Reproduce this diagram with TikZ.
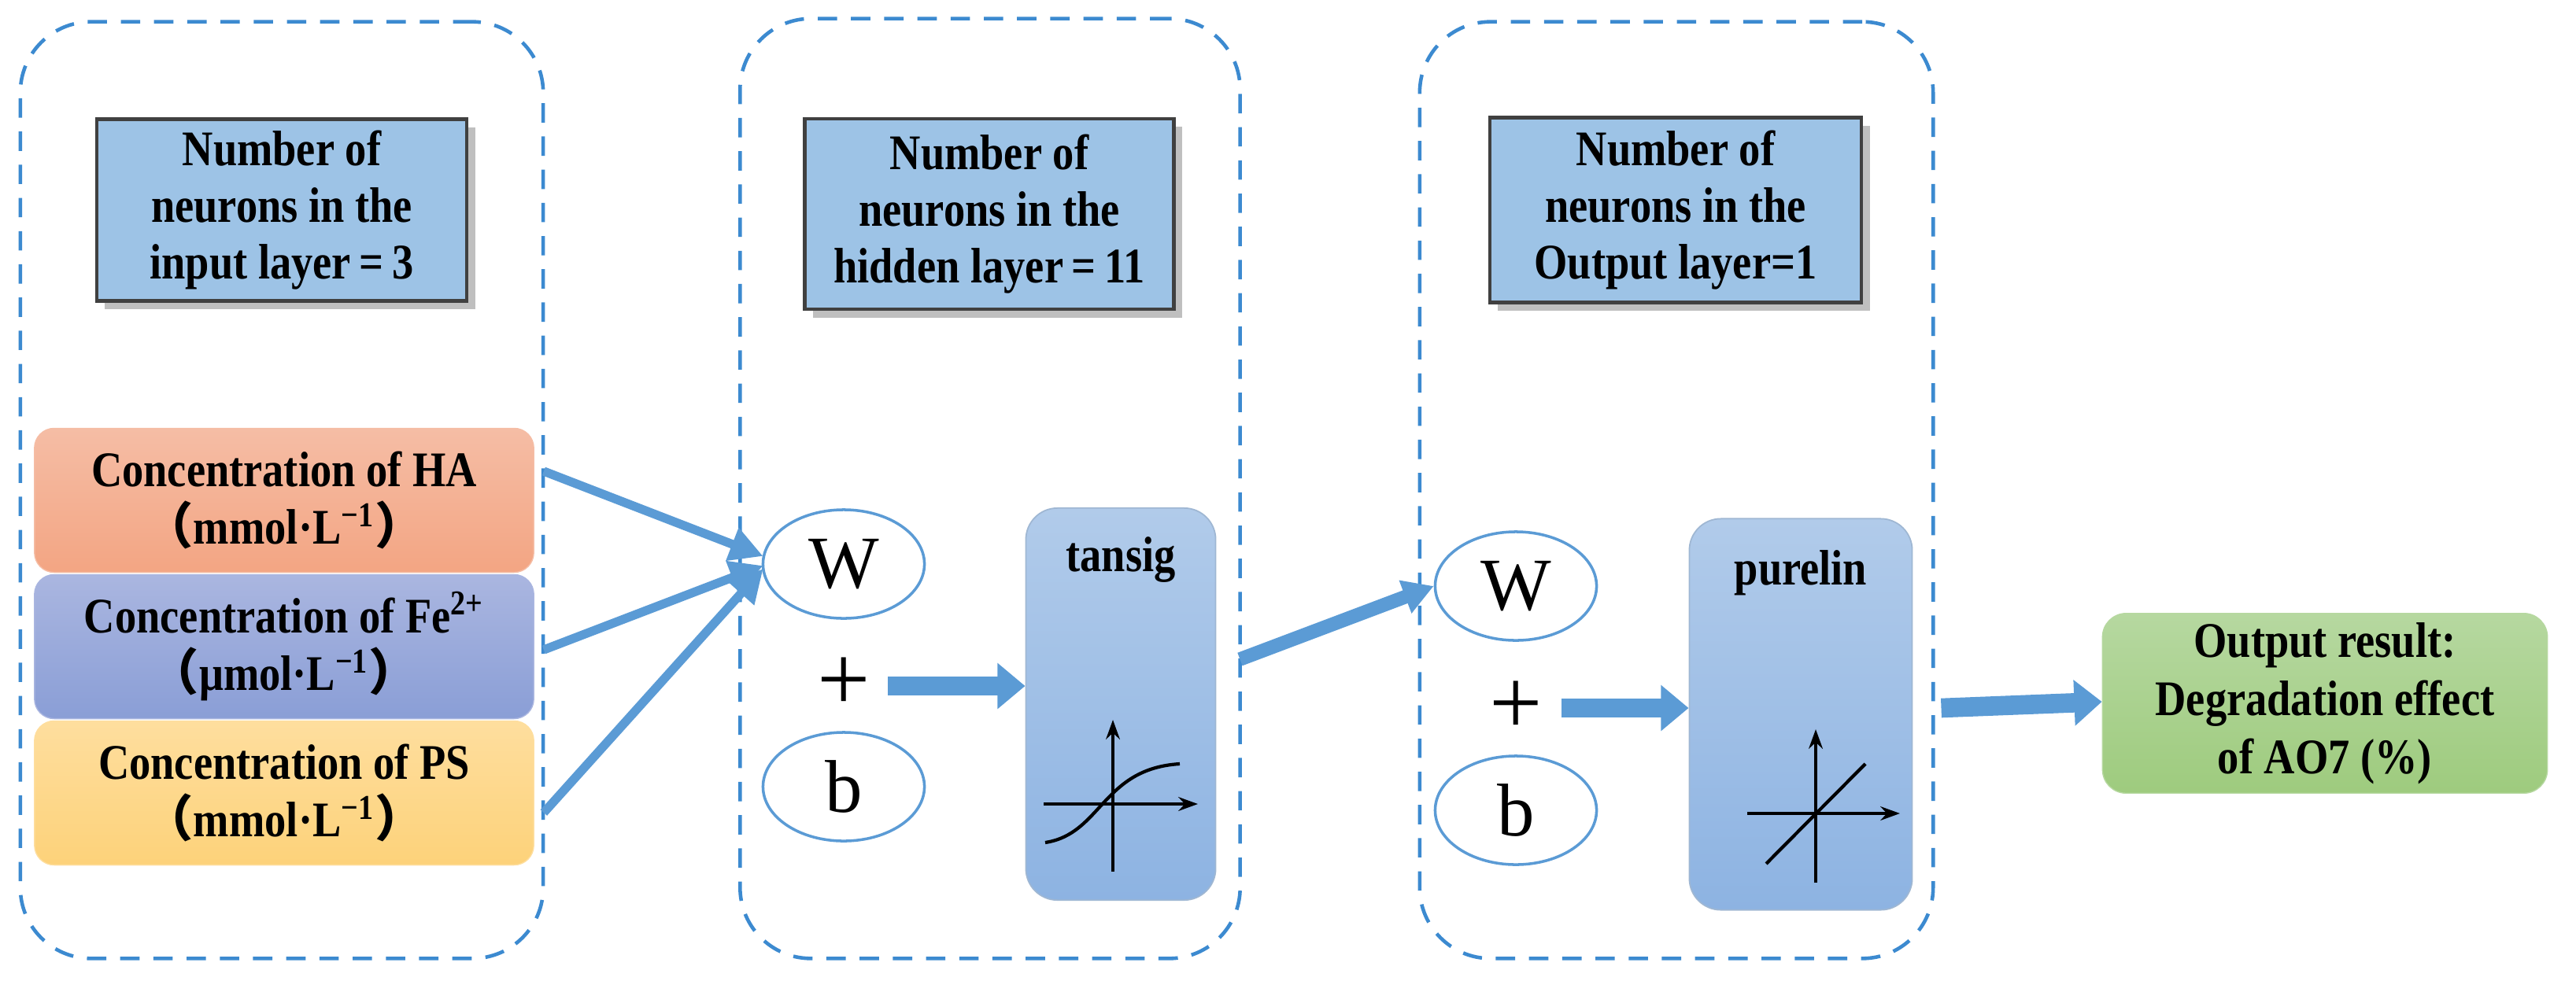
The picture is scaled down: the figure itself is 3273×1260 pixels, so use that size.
\documentclass[tikz,border=0pt]{standalone}
\usepackage{fontspec}
\setmainfont{Liberation Serif}
\newfontfamily\cond{Liberation Serif}[FakeStretch=0.86]
\newfontfamily\cjk{Noto Sans CJK SC}
\newcommand{\lp}{{\cjk （}}
\newcommand{\rp}{{\cjk ）}}
\usetikzlibrary{arrows.meta,shadows,calc,shapes.geometric}
\definecolor{dash}{HTML}{3C8AD0}
\definecolor{hdr}{HTML}{9DC3E6}
\definecolor{arr}{HTML}{5B9BD5}
\definecolor{haT}{HTML}{F5BDA5}\definecolor{haB}{HTML}{F3A583}
\definecolor{feT}{HTML}{AAB6E0}\definecolor{feB}{HTML}{8A9ED6}
\definecolor{psT}{HTML}{FEDE9E}\definecolor{psB}{HTML}{FDD27A}
\definecolor{fT}{HTML}{B1CBEA}\definecolor{fB}{HTML}{8DB3E2}
\definecolor{oT}{HTML}{B6D8A0}\definecolor{oB}{HTML}{9ECB7E}
\tikzset{
  layer/.style={draw=dash,line width=1.3pt,rounded corners=0.9cm,dash pattern=on 7pt off 5pt},
  hdr/.style={draw=black!75,line width=1.3pt,fill=hdr,align=center,font=\cond\bfseries\fontsize{18}{20.5}\selectfont,drop shadow={opacity=0.5,shadow xshift=3pt,shadow yshift=-3pt}},
  inp/.style={rounded corners=0.25cm,align=center,font=\cond\bfseries\fontsize{18}{21}\selectfont,minimum width=6.34cm,minimum height=1.83cm},
  ell/.style={ellipse,draw=arr,line width=1pt,minimum width=2.05cm,minimum height=1.38cm,font=\fontsize{27}{27}\selectfont,inner sep=0pt},
  plus/.style={font=\fontsize{34}{34}\selectfont,inner sep=0pt},
  func/.style={rounded corners=0.4cm,top color=fT,bottom color=fB,draw=fT!90!black,line width=0.5pt},
  flbl/.style={font=\cond\bfseries\fontsize{18}{21}\selectfont},
  thin/.style={draw=arr,line width=3.2pt,-{Triangle[length=12pt,width=12pt]}},
  fat/.style={draw=arr,line width=7pt,-{Triangle[length=10pt,width=16pt]}},
  mid/.style={draw=arr,line width=5pt,-{Triangle[length=11pt,width=12pt]}},
  ax/.style={line width=1.2pt,-{Stealth[length=7pt,width=5pt]}}
}
\begin{document}
\begin{tikzpicture}[x=0.01cm,y=-0.01cm]
\useasboundingbox (0,0) rectangle (3273,1260);
% layers
\node[layer,minimum width=6.64cm,minimum height=11.90cm] (L1) at (358,623) {};
\node[layer,minimum width=6.35cm,minimum height=11.94cm] (L2) at (1258,621) {};
\node[layer,minimum width=6.52cm,minimum height=11.90cm] (L3) at (2130,623) {};
% headers
\node[hdr,minimum width=4.70cm,minimum height=2.31cm] (H1) at (358,267) {Number of\\neurons in the\\input layer\,=\,3};
\node[hdr,minimum width=4.69cm,minimum height=2.42cm] (H2) at (1257,272) {Number of\\neurons in the\\hidden layer\,=\,11};
\node[hdr,minimum width=4.72cm,minimum height=2.35cm] (H3) at (2129,267) {Number of\\neurons in the\\Output layer=1};
% inputs
\node[inp,top color=haT,bottom color=haB,draw=haT] (HA) at (361,636) {Concentration of HA\\\lp mmol·L\textsuperscript{−1}\rp};
\node[inp,top color=feT,bottom color=feB,draw=feT] (Fe) at (361,822) {Concentration of Fe\textsuperscript{2+}\\\lp μmol·L\textsuperscript{−1}\rp};
\node[inp,top color=psT,bottom color=psB,draw=psT] (PS) at (361,1008) {Concentration of PS\\\lp mmol·L\textsuperscript{−1}\rp};
% hidden
\node[ell] (W1) at (1072,717) {W};
\node[plus] (P1) at (1072,870) {+};
\node[ell] (B1) at (1072,1000) {b};
\node[func,minimum width=2.41cm,minimum height=4.98cm] (T) at (1424,895) {};
\node[flbl] (TL) at (1424,712) {tansig};
% output layer
\node[ell] (W2) at (1926,745) {W};
\node[plus] (P2) at (1926,900) {+};
\node[ell] (B2) at (1926,1030) {b};
\node[func,minimum width=2.83cm,minimum height=4.97cm] (PL) at (2288,908) {};
\node[flbl] (PLL) at (2288,728) {purelin};
\node[rounded corners=0.3cm,top color=oT,bottom color=oB,draw=oT,align=center,font=\cond\bfseries\fontsize{18}{21}\selectfont,minimum width=5.65cm,minimum height=2.14cm] (OUT) at (2954,894) {Output result:\\Degradation effect\\of AO7 (\%)};
% plots
\draw[ax] (1414,1108) -- (1414,915);
\draw[ax] (1326,1022) -- (1522,1022);
\draw[line width=1.2pt] (1328,1071) .. controls (1400,1060) and (1400,977) .. (1499,971);
\draw[ax] (2307,1122) -- (2307,927);
\draw[ax] (2220,1034) -- (2414,1034);
\draw[line width=1.2pt] (2244,1098) -- (2370,971);
% connectors
\draw[thin] ($(HA.east)+(12,-37)$) -- ($(W1.west)+(2,-10)$);
\draw[thin] ($(Fe.east)+(12,4)$) -- ($(W1.west)+(2,2)$);
\draw[thin] ($(PS.east)+(12,25)$) -- ($(W1.west)+(2,6)$);
\draw[fat] ($(P1.east)+(22,2)$) -- ($(P1.east -| T.west)+(0,2)$);
\draw[mid] ($(T.east)+(30,-57)$) -- (W2.west);
\draw[fat] ($(P2.east)+(24,0)$) -- (P2.east -| PL.west);
\draw[fat] ($(PL.east)+(36,-8)$) -- ($(OUT.west)+(0,-2)$);
\end{tikzpicture}
\end{document}
